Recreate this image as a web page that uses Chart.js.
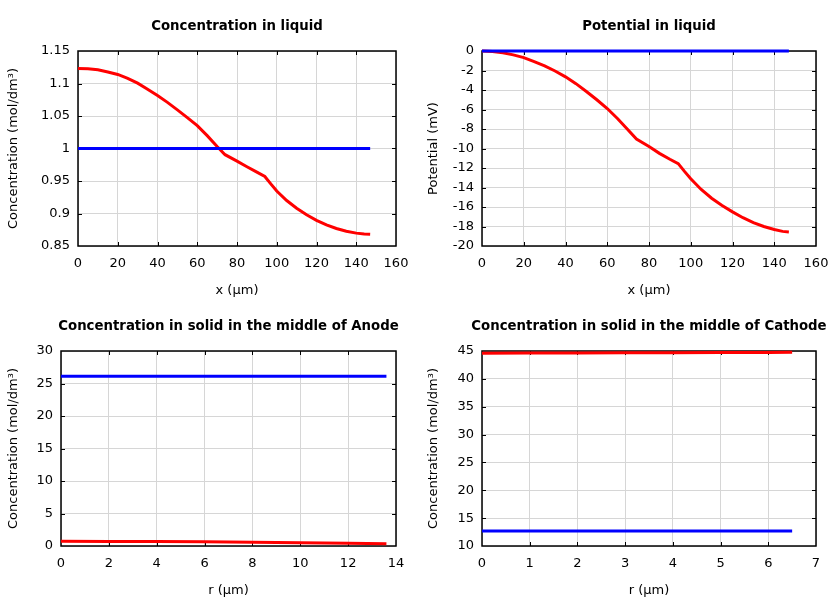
<!DOCTYPE html>
<html lang="en">
<head>
  <meta charset="UTF-8">
  <title>Concentration and potential profiles</title>
  <style>
    body {
      margin: 0;
      background-color: #fff;
    }
    .grid {
      display: grid;
      grid-template-columns: 420px 420px;
      grid-template-rows: 300px 300px;
      width: 840px;
      height: 600px;
    }
    canvas {
      display: block;
    }
  </style>
</head>
<body>
  <div class="grid">
    <canvas id="liquidConc" width="420" height="300"></canvas>
    <canvas id="liquidPot" width="420" height="300"></canvas>
    <canvas id="anodeConc" width="420" height="300"></canvas>
    <canvas id="cathodeConc" width="420" height="300"></canvas>
  </div>

  <script src="https://cdn.jsdelivr.net/npm/chart.js"></script>
  <script>
    // liquid phase, x in um
    const liquidX = [0, 5, 10, 15, 20, 25, 30, 35, 40, 45, 50, 55, 60, 65, 70, 74, 80, 85, 90, 94, 97, 100, 105, 110, 115, 120, 125, 130, 135, 140, 144, 147];
    const liquidConcEnd = [1.1232, 1.1226, 1.121, 1.1178, 1.1139, 1.108, 1.1005, 1.0913, 1.0814, 1.071, 1.0595, 1.0475, 1.0352, 1.0198, 1.0032, 0.9905, 0.9805, 0.972, 0.9637, 0.957, 0.9455, 0.9345, 0.920, 0.908, 0.898, 0.8895, 0.8825, 0.877, 0.8728, 0.8698, 0.8685, 0.868];
    const liquidConcStart = [1, 1, 1, 1, 1, 1, 1, 1, 1, 1, 1, 1, 1, 1, 1, 1, 1, 1, 1, 1, 1, 1, 1, 1, 1, 1, 1, 1, 1, 1, 1, 1];
    const liquidPotEnd = [0, -0.05, -0.18, -0.4, -0.68, -1.08, -1.52, -2.05, -2.65, -3.35, -4.15, -5.0, -5.9, -6.95, -8.1, -9.03, -9.8, -10.5, -11.1, -11.55, -12.35, -13.1, -14.2, -15.1, -15.85, -16.5, -17.1, -17.6, -18.0, -18.3, -18.5, -18.56];
    const liquidPotStart = [0, 0, 0, 0, 0, 0, 0, 0, 0, 0, 0, 0, 0, 0, 0, 0, 0, 0, 0, 0, 0, 0, 0, 0, 0, 0, 0, 0, 0, 0, 0, 0];

    // solid particles, r in um
    const anodeR = [0, 2, 4, 6, 8, 10, 12, 13.6];
    const anodeEnd = [0.72, 0.71, 0.68, 0.64, 0.58, 0.51, 0.43, 0.36];
    const anodeStart = [26.1, 26.1, 26.1, 26.1, 26.1, 26.1, 26.1, 26.1];
    const cathodeR = [0, 1, 2, 3, 4, 5, 6, 6.5];
    const cathodeEnd = [44.6, 44.62, 44.65, 44.68, 44.7, 44.72, 44.75, 44.76];
    const cathodeStart = [12.7, 12.7, 12.7, 12.7, 12.7, 12.7, 12.7, 12.7];

    const FONT = 'DejaVu Sans';

    function pts(xs, ys) {
      return xs.map((x, i) => ({ x: x, y: ys[i] }));
    }

    // gnuplot style frame with inward ticks on all four sides
    const framePlugin = {
      id: 'frame',
      beforeDatasetsDraw(chart) {
        const ctx = chart.ctx;
        const a = chart.chartArea;
        const xs = chart.scales.x, ys = chart.scales.y;
        const len = 4;
        ctx.save();
        ctx.strokeStyle = '#000';
        ctx.lineWidth = 1;
        ctx.beginPath();
        xs.ticks.forEach(t => {
          const px = Math.round(xs.getPixelForValue(t.value)) + 0.5;
          if (px <= a.left + 1 || px >= a.right - 1) return;
          ctx.moveTo(px, a.bottom); ctx.lineTo(px, a.bottom - len);
          ctx.moveTo(px, a.top); ctx.lineTo(px, a.top + len);
        });
        ys.ticks.forEach(t => {
          const py = Math.round(ys.getPixelForValue(t.value)) + 0.5;
          if (py <= a.top + 1 || py >= a.bottom - 1) return;
          ctx.moveTo(a.left, py); ctx.lineTo(a.left + len, py);
          ctx.moveTo(a.right, py); ctx.lineTo(a.right - len, py);
        });
        ctx.stroke();
        ctx.lineWidth = 1.5;
        ctx.strokeRect(a.left, a.top, a.right - a.left, a.bottom - a.top);
        ctx.restore();
      }
    };

    // title centred over the plot area, never squeezed to its width
    const titlePlugin = {
      id: 'plotTitle',
      afterDraw(chart, args, opts) {
        const ctx = chart.ctx;
        const a = chart.chartArea;
        ctx.save();
        ctx.font = 'bold 13.3px "' + FONT + '"';
        ctx.fillStyle = '#000';
        ctx.textAlign = 'center';
        ctx.textBaseline = 'middle';
        ctx.fillText(opts.text, (a.left + a.right) / 2, 27);
        ctx.restore();
      }
    };

    function makeChart(id, cfg) {
      return new Chart(document.getElementById(id), {
        type: 'line',
        data: {
          datasets: [
            { data: pts(cfg.x, cfg.start), borderColor: '#0000ff', borderWidth: 3, pointRadius: 0, tension: 0, clip: false },
            { data: pts(cfg.x, cfg.end), borderColor: '#ff0000', borderWidth: 3, pointRadius: 0, tension: 0, clip: false }
          ]
        },
        options: {
          responsive: false,
          animation: false,
          layout: { padding: { left: 0, right: 24, top: 51, bottom: 0 } },
          plugins: {
            legend: { display: false },
            tooltip: { enabled: false },
            title: { display: false },
            plotTitle: { text: cfg.title }
          },
          scales: {
            x: {
              type: 'linear',
              min: cfg.xMin, max: cfg.xMax,
              afterFit: s => { s.height = 54; },
              ticks: {
                stepSize: cfg.xStep,
                color: '#000',
                padding: 10,
                maxRotation: 0,
                font: { family: FONT, size: 13 },
                callback: v => String(parseFloat(v.toFixed(2)))
              },
              grid: { color: '#d6d6d6', lineWidth: 1, drawTicks: false },
              border: { display: false },
              title: {
                display: true,
                text: cfg.xTitle,
                color: '#000',
                font: { family: FONT, size: 13, lineHeight: 1.2 },
                padding: { top: 0, bottom: 2 }
              }
            },
            y: {
              type: 'linear',
              min: cfg.yMin, max: cfg.yMax,
              afterFit: s => { s.width = cfg.yWidth; },
              ticks: {
                stepSize: cfg.yStep,
                color: '#000',
                padding: 8,
                font: { family: FONT, size: 13 },
                callback: v => String(parseFloat(v.toFixed(2)))
              },
              grid: { color: '#d6d6d6', lineWidth: 1, drawTicks: false },
              border: { display: false },
              title: {
                display: true,
                text: cfg.yTitle,
                color: '#000',
                font: { family: FONT, size: 13, lineHeight: 1.2 },
                padding: { top: 6, bottom: 0 }
              }
            }
          }
        },
        plugins: [framePlugin, titlePlugin]
      });
    }

    makeChart('liquidConc', {
      title: 'Concentration in liquid',
      x: liquidX, start: liquidConcStart, end: liquidConcEnd,
      xMin: 0, xMax: 160, xStep: 20, xTitle: 'x (µm)',
      yMin: 0.85, yMax: 1.15, yStep: 0.05, yTitle: 'Concentration (mol/dm³)',
      yWidth: 78
    });

    makeChart('liquidPot', {
      title: 'Potential in liquid',
      x: liquidX, start: liquidPotStart, end: liquidPotEnd,
      xMin: 0, xMax: 160, xStep: 20, xTitle: 'x (µm)',
      yMin: -20, yMax: 0, yStep: 2, yTitle: 'Potential (mV)',
      yWidth: 62
    });

    makeChart('anodeConc', {
      title: 'Concentration in solid in the middle of Anode',
      x: anodeR, start: anodeStart, end: anodeEnd,
      xMin: 0, xMax: 14, xStep: 2, xTitle: 'r (µm)',
      yMin: 0, yMax: 30, yStep: 5, yTitle: 'Concentration (mol/dm³)',
      yWidth: 61
    });

    makeChart('cathodeConc', {
      title: 'Concentration in solid in the middle of Cathode',
      x: cathodeR, start: cathodeStart, end: cathodeEnd,
      xMin: 0, xMax: 7, xStep: 1, xTitle: 'r (µm)',
      yMin: 10, yMax: 45, yStep: 5, yTitle: 'Concentration (mol/dm³)',
      yWidth: 62
    });
  </script>
</body>
</html>
